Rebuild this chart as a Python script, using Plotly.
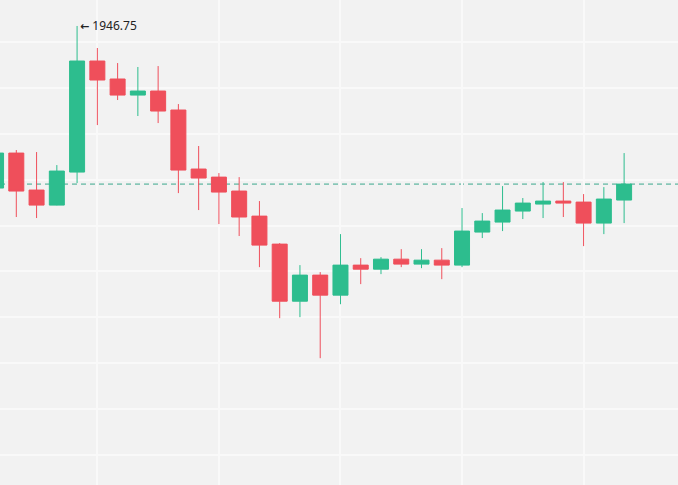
import plotly.graph_objects as go

idx = list(range(32))
opens = [1929.09, 1932.90, 1928.87, 1927.23, 1930.83, 1942.93, 1940.97, 1939.22,
         1939.66, 1937.59, 1931.16, 1930.28, 1928.76, 1926.03, 1922.98, 1916.76,
         1919.60, 1917.42, 1920.69, 1920.25, 1921.34, 1920.80, 1921.23, 1920.69,
         1924.29, 1925.38, 1926.58, 1927.34, 1927.67, 1927.56, 1925.27, 1927.78]
highs = [1933.23, 1933.23, 1933.01, 1931.59, 1946.75, 1944.35, 1942.71, 1942.28,
         1942.38, 1938.24, 1933.67, 1930.72, 1930.28, 1927.67, 1923.09, 1920.69,
         1919.93, 1924.07, 1921.45, 1921.56, 1922.43, 1922.43, 1922.54, 1926.91,
         1926.36, 1929.30, 1928.00, 1929.74, 1929.74, 1928.43, 1929.19, 1932.90]
lows = [1928.87, 1925.93, 1925.82, 1927.20, 1929.63, 1935.95, 1938.68, 1936.94,
        1936.17, 1928.54, 1926.69, 1925.16, 1923.86, 1920.47, 1914.91, 1915.02,
        1910.55, 1916.43, 1918.62, 1919.71, 1920.47, 1920.36, 1919.16, 1920.47,
        1923.64, 1924.40, 1925.71, 1925.82, 1925.93, 1922.76, 1924.07, 1925.27]
closes = [1932.90, 1928.76, 1927.23, 1930.94, 1942.93, 1940.86, 1939.22, 1939.66,
          1937.48, 1931.05, 1930.18, 1928.65, 1925.93, 1922.87, 1916.76, 1919.60,
          1917.42, 1920.69, 1920.25, 1921.34, 1920.80, 1921.23, 1920.69, 1924.40,
          1925.49, 1926.69, 1927.45, 1927.67, 1927.45, 1925.27, 1927.89, 1929.52]

high_label = '<span style="font-family:DejaVu Sans;font-size:11px"><b>←</b></span> 1946.75'
last_price = closes[-1]
high_idx = highs.index(max(highs))

GREEN = "#2dbd8e"
RED = "#ef4f5b"
BG = "#f2f2f2"
GRID = "#f9f9f9"

fig = go.Figure(go.Candlestick(
    x=idx, open=opens, high=highs, low=lows, close=closes,
    increasing=dict(line=dict(color=GREEN, width=1), fillcolor=GREEN),
    decreasing=dict(line=dict(color=RED, width=1), fillcolor=RED),
    whiskerwidth=0,
    showlegend=False,
))

fig.add_shape(type="line", xref="paper", x0=0, x1=1, yref="y",
              y0=last_price, y1=last_price, layer="below",
              line=dict(color="#3aa88c", width=1, dash="5px,4px"))

fig.add_annotation(x=idx[high_idx], y=highs[high_idx], text=high_label,
                   showarrow=False, xanchor="left", yanchor="middle", xshift=1,
                   font=dict(family="Noto Sans", size=12, color="#222222"))

fig.update_layout(
    width=678, height=485,
    margin=dict(l=0, r=0, t=0, b=0),
    paper_bgcolor=BG, plot_bgcolor=BG,
    boxgap=0.26, boxgroupgap=0,
    xaxis=dict(range=[0.195, 33.66], showticklabels=False, zeroline=False,
               showgrid=True, gridcolor=GRID, gridwidth=2,
               tick0=5, dtick=6, rangeslider=dict(visible=False),
               showline=False, ticks=""),
    yaxis=dict(range=[1896.73, 1949.58], showticklabels=False, zeroline=False,
               showgrid=True, gridcolor=GRID, gridwidth=2,
               tick0=1900, dtick=5, showline=False, ticks=""),
    hovermode=False,
)

fig.write_html("out.html")
